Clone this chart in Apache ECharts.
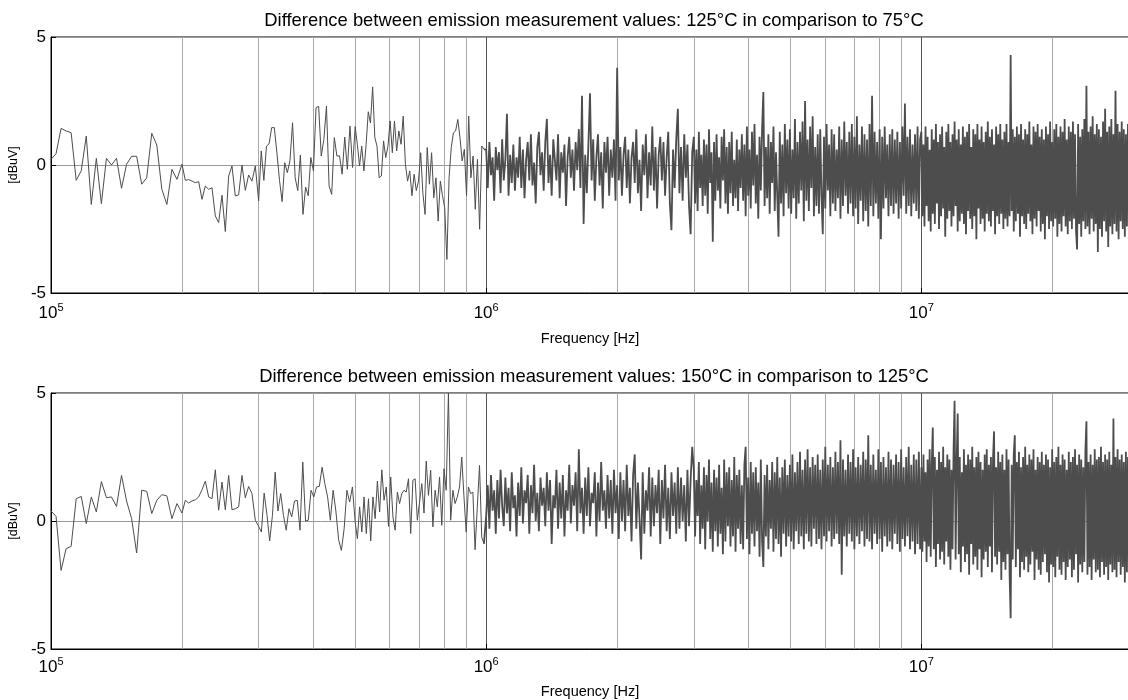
<!DOCTYPE html>
<html>
<head>
<meta charset="utf-8">
<title>Emission difference</title>
<script src="https://cdn.jsdelivr.net/npm/echarts@6/dist/echarts.min.js"></script>
<style>
  html, body { margin: 0; padding: 0; background: #fff; }
  #main { width: 1128px; height: 700px; }
</style>
</head>
<body>
<div id="main"></div>
<script>
var titles = [
    'Difference between emission measurement values: 125\u00b0C in comparison to 75\u00b0C',
    'Difference between emission measurement values: 150\u00b0C in comparison to 125\u00b0C'
];
// stretches of the sweep (Hz); each value array below covers one stretch
var bands = [[1e5, 2e5], [2e5, 3e5], [3e5, 5e5], [5e5, 1e6], [1e6, 3e6], [3e6, 1e7], [1e7, 3e7]];
var minorGrid = [2e5, 3e5, 4e5, 5e5, 6e5, 7e5, 8e5, 9e5, 2e6, 3e6, 4e6, 5e6, 6e6, 7e6, 8e6, 9e6, 2e7];
var yMin = -5, yMax = 5, yStep = 5;

// 125 vs 75 degC  [dBuV]
var top1 = [0.22, 0.44, 1.43, 1.33, 1.26, -0.6, -0.23, 1.13, -1.54, 0.26, -1.51, 0.26, 0, 0.26, -0.91, 0.03, 0.34, 0.34, -0.75, -0.5, 1.24, 0.78, -0.95, -1.54, -0.17, -0.56];
var top2 = [0.03, -0.6, -0.57, -0.63, -0.69, -0.65, -1.34, -0.82, -0.95, -0.89, -1.99, -2.25, -1.18, -2.6, -0.43, -0.04, -1.21, -1.17, 0, -0.99, -0.39, -0.63, -0.04];
var top3 = [-1.4, 0.55, -0.6, 0.74, 0.83, 1.46, 1.46, 0.48, -0.6, -1.43, 0.09, -0.3, 0.16, 1.65, -0.5, -1.0, 0.39, -1.93, -0.86, -1.2, 0.29, -0.23, 2.24, 2.29, 0.35, 1.0, 2.3, -0.82, -1.15, 1.07, 0.35, 0.36, -0.36, 1.09, -0.17, 1.52, -0.1];
var top4 = [1.5, 0.8, -0.04, 0.74, -0.23, 0.8, 2.08, 1.64, 3.05, 1.07, 0.74, -0.5, -0.43, 0.94, 0.29, 0.73, 1.72, 0.48, 1.72, 0.55,
    1.33, 0.81, 1.91, 0.03, -0.63, -0.23, -1.2, -0.36, -1.0, -0.63, 0.48, -1.1, -1.93, 0.68, -0.75, 0.48, -1.28, -0.5, -2.19, -0.63,
    -1.2, -1.67, -3.69, -0.5, 0.68, 1.26, 1.33, 1.78, 1.07, 0.16, 0.61, -1.2, 1.91, -0.5, 0.35, -1.73, 0.22, -2.51, 0.74, 0.61];
var top5 = [0.6, -0.9, 0.9, -0.4, 0.3, -1.4, 0.7, -0.2, 0.5, -1.1, 1.0, -0.6, 0.2, 2.0, -1.2, 0.4, -0.7, 0.8, -1.0, 0.3,
    -0.5, 1.1, -0.9, 0.6, -1.3, 0.2, 0.9, -0.6, 1.2, -0.8, 0.1, -1.5, 0.7, 1.3, -0.4, 0.5, -1.0, 0.9, 1.8, -0.7,
    0.4, -1.2, 1.0, 0.2, -0.6, 1.2, -1.3, 0.5, -0.3, 0.8, -1.6, 0.3, 1.1, -0.5, 0.6, -1.0, 0.9, -0.2, 1.4, -0.9,
    2.7, -2.3, 0.4, -1.1, 0.8, 2.8, -0.6, 1.0, -1.4, 0.3, 1.2, -0.8, 0.5, -1.7, 0.9, -0.3, 1.1, -1.2, 0.6, -0.5,
    1.0, -1.4, 3.8, -0.6, 0.7, -1.2, 0.4, 1.1, -0.9, 0.6, -1.5, 0.3, 0.9, -0.7, 1.4, -1.1, 0.2, -1.8, 0.8, -0.4,
    1.2, -1.3, 0.5, -0.8, 1.5, -1.0, 0.7, -1.7, 0.4, 1.1, -0.6, 0.9, -1.2, 0.3, 1.3, -1.5, -2.55, 0.6, -0.9, 1.0,
    2.2, -1.1, 0.7, -1.4, 1.2, -0.5, 0.8, -1.6, -2.7, 0.5];
var top6 = [1.1, -1.5, 0.6, -1.8, 1.3, -0.9, 0.4, -1.6, 1.0, -1.2, 0.8, -1.9, 1.4, -0.7, 0.5, -3.0, 0.9, -1.4, 1.2, -1.0,
    0.3, -1.7, 1.1, -0.6, 1.4, -1.5, 0.7, -1.9, 0.9, -1.1, 1.3, -1.6, 0.2, -1.3, 1.0, -1.8, 0.6, -0.9, 1.2, -1.4,
    0.8, -2.0, 1.5, -1.2, 0.6, -1.7, 1.3, -0.8, 1.6, -1.5, 0.4, -2.1, 1.1, -1.0, 1.4, 2.85, -1.6, 0.7, -1.3, 1.2,
    -1.9, 0.9, -0.7, 1.5, -1.8, 0.5, -1.2, -2.8, 1.3, -1.5, 0.8, -2.0, 1.6, -1.1, 1.0, -1.7, 1.4, -1.9, 0.6, -1.3,
    1.8, -2.1, 0.9, -1.5, 1.3, -1.0, 1.7, -2.2, 2.5, -1.4, 1.0, -1.8, 1.5, -0.9, 1.9, -2.0, 0.7, -1.6, 1.2, -1.9,
    1.4, -1.2, -2.7, 1.1, -1.7, 1.6, -1.0, 0.8, -2.0, 1.4, -1.5, 1.2, -1.8, 0.6, -1.3, 1.5, -2.1, 1.0, -1.6, 1.7,
    -1.2, 0.9, -1.9, 1.3, -1.5, 1.6, -2.0, 1.1, -1.7, 1.9, -2.3, 0.8, -1.4, 1.5, -2.2, 1.2, -1.8, 1.0, -2.4, 1.6,
    -1.6, 2.7, -2.0, 1.3, -1.5, 0.9, -2.1, 1.4, -2.9, 1.1, -1.7, 1.5, -1.3, 0.8, -2.0, 1.2, -1.6, 1.4, -1.9, 1.0,
    -1.5, 1.3, -2.1, 0.9, -1.7, 1.5, -1.2, 2.4, -1.9, 1.1, -1.6, 1.4, -2.0, 0.8, -1.5, 1.2, -1.8, 1.5, -2.1, 1.0];
var top7 = [1.3, -2.0, 0.8, -2.4, 1.5, -1.6, 1.1, -2.2, 0.6, -2.6, 1.4, -1.9, 1.0, -2.3, 1.6, -1.5, 0.9, -2.5, 1.2, -2.0,
    1.5, -1.7, 0.7, -2.8, 1.3, -2.1, 1.6, -1.8, 0.9, -2.4, 1.2, -2.0, 1.7, -1.6, 1.0, -2.6, 1.4, -2.2, 0.8, -1.9,
    1.5, -2.3, 1.1, -2.7, 1.3, -1.8, 1.6, -2.1, 0.7, -2.5, 1.4, -2.0, 1.2, -2.9, 1.6, -1.7, 1.0, -2.3, 1.5, -2.1,
    0.9, -2.6, 1.3, -1.9, 1.7, -2.2, 1.1, -2.4, 1.4, -1.8, 0.8, -2.7, 1.5, -2.0, 1.2, -2.3, 1.6, -1.9, 1.0, -2.5,
    1.3, -2.1, 1.6, -2.4, 0.9, -2.0, 4.3, -1.8, 1.4, -2.6, 1.1, -2.2, 1.5, -1.9, 1.2, -2.8, 1.6, -2.0, 1.0, -2.3,
    1.4, -2.5, 1.2, -1.9, 1.7, -2.2, 0.8, -2.7, 1.5, -2.1, 1.3, -2.4, 1.6, -1.8, 1.1, -2.6, 1.4, -2.3, 1.0, -2.9,
    1.5, -2.0, 1.2, -2.5, 1.7, -2.2, 0.9, -2.4, 1.4, -2.1, 1.6, -2.8, 1.1, -2.3, 1.5, -2.6, 1.3, -2.0, 1.8, -2.4,
    1.0, -2.7, 1.5, -2.2, 1.3, -2.5, 1.7, -2.1, 1.2, -2.6, -3.3, 1.6, -2.3, 1.1, -2.8, 1.4, -2.2, 1.8, -2.5, 3.1,
    -2.4, 1.3, -2.7, 1.5, -2.1, 1.9, -2.6, 1.2, -2.3, 1.6, -3.4, 1.4, -2.5, 1.1, -2.8, 1.7, -2.2, 2.2, -2.6, 1.3,
    -3.2, 1.5, -2.4, 1.8, -2.7, 1.2, -2.3, 2.9, -2.6, 1.6, -2.9, 1.3, -2.2, 1.7, -2.5, 1.4, -2.8, 1.2, -2.4, 1.6];

// 150 vs 125 degC  [dBuV]
var bot1 = [0.39, 0.18, -1.93, -1.08, -0.99, 0.87, 0.96, -0.1, 0.94, 0.35, 1.54, 0.91, 0.94, 0.57, 1.78, 0.78, 0.09, -1.25, 1.2, 1.16, 0.29, 0.81, 1.03, 0.98, 0.09, 0.68];
var bot2 = [0.31, 0.81, 0.7, 0.78, 0.83, 0.94, 1.22, 1.56, 0.94, 0.87, 2.0, 0.42, 1.52, 0.44, 1.78, 0.44, 0.48, 0.55, 1.78, 0.91, 1.35, 1.07, 0.03];
var bot3 = [-0.21, -0.43, 1.09, 0.26, -0.78, 0.22, 1.91, 0.39, 1.07, 0.22, -0.36, 0.48, 0.16, 0.78, 0.81, -0.36, 2.3, 0.0, 0.03, 1.2,
    0.94, 1.33, 1.35, 2.1, 1.46, 0.94, 0.03, 1.2, 0.39, -0.73, -1.15, -0.3, 1.2, 0.74, 1.33];
var bot4 = [-0.04, -0.69, 0.55, -0.43, 0.94, -0.49, 0.87, -0.78, 0.94, 0.09, 1.56, 0.35, 2.0, 0.81, 1.33, -0.21, 1.72, 0.16, -0.36, 1.13,
    0.68, 1.07, 1.2, 1.13, 1.65, -0.49, 1.59, 1.65, 0.03, 0.74, 1.46, 0.31, 2.34, 1.0, 1.98, -0.23, 1.2, 0.55, 1.72, -0.17,
    2.04, 1.2, 5.0, 0.03, 1.2, 0.68, 0.94, 1.33, 2.5, 0.94, -0.43, 1.33, 1.07, 1.13, -1.12, 0.55, 2.17, -0.63, -0.89];
var bot5 = [0.2, 1.4, -0.3, 1.8, 0.4, 1.2, -0.5, 1.6, 0.1, 2.0, 0.6, -0.2, 1.7, 0.3, 1.3, -0.4, 1.9, 0.5, 1.0, -0.6,
    1.5, 0.2, 2.1, -0.1, 1.2, 0.7, 1.8, -0.5, 1.4, 0.3, 2.2, 0.0, 1.1, -0.4, 1.7, 0.6, 1.3, -0.2, 1.9, 0.4,
    1.6, -0.9, 1.0, 0.5, 2.0, -0.3, 1.5, 0.1, 1.8, -0.6, 1.2, 0.4, 2.2, -0.1, 1.4, 0.6, 1.9, -0.4, 2.8, 0.3,
    1.3, -0.5, 1.7, 0.2, 2.1, -0.2, 1.1, 0.7, 1.9, -0.6, 1.5, 0.0, 2.3, 0.4, 1.2, -0.3, 1.8, 0.1, 1.6, -0.5,
    2.0, 0.3, 1.4, -0.7, 1.9, 0.0, 1.6, -0.4, 2.2, 0.2, 1.3, -0.8, 1.8, 2.6, -0.3, 1.5, 0.1, -1.5, 1.9, -0.5,
    1.2, 0.4, 2.1, -0.6, 1.7, -0.2, 1.4, 0.3, 2.0, -0.9, 1.6, 0.1, 2.2, -0.4, 1.3, -0.7, 1.9, 0.2, 1.5, -0.5,
    2.1, -0.3, 1.7, 0.0, 1.4, -0.8, 2.0, -0.2, 1.6, 2.9];
var bot6 = [2.0, -0.6, 1.6, 0.2, 2.3, -0.9, 1.4, -0.3, 2.1, -1.1, 1.8, 0.0, 2.4, -0.7, 1.5, -1.2, 2.0, -0.4, 1.7, -1.0,
    2.2, -0.5, 1.3, -1.3, 2.4, -0.8, 1.9, -0.2, 2.1, -1.0, 1.6, -0.6, 2.5, -1.2, 1.8, -0.3, 2.0, -0.9, 1.4, -1.1,
    2.2, 2.9, -0.7, 1.7, -1.3, 2.3, -0.5, 1.9, -1.0, 2.1, -0.4, 1.5, -1.4, 2.4, -0.8, -1.8, 1.8, -0.6, 2.2, -1.1,
    1.6, -0.3, 2.3, -1.2, 1.9, -0.7, 2.5, -0.9, 1.7, -1.4, 2.1, -0.5, 2.4, -1.0, 1.8, -0.6, 2.2, -0.8, 2.6, -1.1,
    1.9, -0.4, 2.3, -0.9, 2.7, -0.6, 2.0, -1.1, 2.4, -0.5, 2.8, -0.8, 2.1, -1.0, 2.5, -0.3, 2.2, -0.9, 2.6, -0.7,
    2.0, -1.1, 2.4, -0.6, 2.9, -0.8, 2.2, -0.4, 2.5, -1.0, 2.1, -0.7, 2.7, -0.5, 2.3, -0.9, 3.15, -2.1, 2.4, -0.6,
    2.0, -1.0, 2.6, -0.5, 2.3, -0.8, 2.8, -1.1, 2.1, -0.6, 2.5, -0.9, 2.2, -0.4, 2.7, -1.0, 2.4, -0.7, 3.35, -0.8,
    2.2, -1.1, 2.6, -0.5, 2.0, -0.9, 2.8, -0.7, 2.3, -1.2, 2.5, -0.6, 2.1, -1.0, 2.7, -0.8, 2.4, -1.1, 2.2, -0.5,
    2.6, -0.9, 2.3, -1.2, 2.8, -0.7, 2.1, -1.0, 2.5, -0.6, 2.9, -1.1, 2.2, -0.8, 2.6, -1.3, 2.4, -0.9, 2.7, -1.1];
var bot7 = [2.1, -1.2, 2.6, -0.8, 1.9, -1.6, 2.4, -1.0, 2.8, -1.4, 2.2, 3.65, -1.1, 2.5, -1.8, 2.0, -0.9, 2.7, -1.5, 2.3,
    -1.2, 2.9, -1.7, 2.1, -0.8, 2.6, -1.4, 2.4, -1.9, 2.0, -1.1, 2.7, 4.7, -1.5, 2.3, 4.2, -1.3, 2.5, -2.0, 1.9,
    -1.0, 2.8, -1.6, 2.2, -1.3, 2.6, -2.1, 2.4, -0.9, 2.9, -1.7, 2.1, -1.4, 2.5, -1.9, 2.7, -1.1, 2.3, -2.2, 2.0,
    -1.5, 2.6, -1.2, 2.8, -1.8, 2.2, -1.0, 2.5, -2.0, 2.4, 3.5, -1.4, 2.1, -1.7, 2.7, -1.2, 2.3, -2.3, 2.6, -1.6,
    2.0, -1.9, 2.8, -1.3, 2.4, -2.1, -3.8, 2.2, -1.5, 2.6, 3.35, -1.8, 2.3, -1.1, 2.7, -2.2, 2.1, -1.6, 2.5, -1.9,
    2.9, -1.4, 2.2, -2.0, 2.6, -1.7, 2.4, -1.2, 2.8, -2.3, 2.0, -1.5, 2.5, -1.9, 2.3, -2.1, 2.7, -1.6, 2.2, -1.3,
    2.6, -2.0, 2.4, -2.4, 2.1, -1.7, 2.8, -1.8, 2.3, -2.2, 2.5, -1.4, 2.9, -1.9, 2.2, -2.1, 2.6, -1.6, 2.4, -2.3,
    2.0, -1.8, 2.7, -1.5, 2.3, -2.2, 2.5, -1.9, 2.8, -1.3, 2.2, -2.4, 2.6, -1.7, 2.4, -2.0, 2.1, -1.6, 2.7, 3.9,
    -2.1, 2.3, -1.8, 2.6, -2.3, 2.2, -1.5, 2.8, -2.0, 2.4, -1.9, 2.5, -2.2, 2.9, -1.6, 2.3, -2.1, 2.6, -1.8, 2.4,
    -2.3, 2.7, -1.7, 2.2, -2.0, 4.0, -1.9, 2.5, -2.2, 2.8, -1.6, 2.4, -2.1, 2.6, -1.8, 2.3, -2.4, 2.7, -2.0, 2.5];

var fontFam = '"Liberation Sans", Arial, Helvetica, sans-serif';

// spread each stretch's readings evenly (log) across its frequency band
function sweep(parts, firstBand) {
    var out = [];
    parts.forEach(function (vals, k) {
        var b = bands[firstBand + k], f0 = b[0], f1 = b[1], n = vals.length;
        vals.forEach(function (v, i) {
            out.push([f0 * Math.pow(f1 / f0, i / n), v]);
        });
    });
    return out;
}

// below 1 MHz the trace is sparse, above it the sweep gets very dense
var topLow = sweep([top1, top2, top3, top4], 0);
var topHigh = sweep([top5, top6, top7], 4);
var botLow = sweep([bot1, bot2, bot3, bot4], 0);
var botHigh = sweep([bot5, bot6, bot7], 4);
// join the two pieces
topHigh.unshift(topLow[topLow.length - 1]);
botHigh.unshift(botLow[botLow.length - 1]);

function xAxisFor(idx) {
    return {
        type: 'log', logBase: 10, gridIndex: idx,
        min: 1e5, max: 3e7, interval: 1,
        name: 'Frequency [Hz]', nameLocation: 'middle', nameGap: idx === 0 ? 38 : 35,
        nameTextStyle: { fontFamily: fontFam, fontSize: 14.5, color: '#000' },
        axisLine: { show: true, onZero: false, lineStyle: { color: '#000', width: 1 } },
        axisTick: { show: true, inside: true, length: 5, lineStyle: { color: '#000' } },
        splitLine: { show: true, lineStyle: { color: '#555', width: 1 } },
        axisLabel: {
            showMaxLabel: false, margin: idx === 0 ? 9 : 7, color: '#000', fontFamily: fontFam,
            formatter: function (v) {
                return '{b|10}{s|' + Math.round(Math.log10(v)) + '}';
            },
            rich: {
                b: { fontSize: 17, fontFamily: fontFam, color: '#000', lineHeight: 20, verticalAlign: 'bottom' },
                s: { fontSize: 11, fontFamily: fontFam, color: '#000', lineHeight: 20, verticalAlign: 'top' }
            }
        }
    };
}

function yAxisFor(idx) {
    return {
        type: 'value', gridIndex: idx,
        min: yMin, max: yMax, interval: yStep,
        name: '[dBuV]', nameLocation: 'middle', nameGap: 29, nameRotate: 90,
        nameTextStyle: { fontFamily: fontFam, fontSize: 12.5, color: '#000' },
        axisLine: { show: true, onZero: false, lineStyle: { color: '#000', width: 1 } },
        axisTick: { show: true, inside: true, length: 5, lineStyle: { color: '#000' } },
        splitLine: { show: true, lineStyle: { color: '#999', width: 1 } },
        axisLabel: { fontSize: 17, fontFamily: fontFam, color: '#000', margin: 5 }
    };
}

function traceFor(idx, data, width, withGrid) {
    var s = {
        type: 'line', xAxisIndex: idx, yAxisIndex: idx,
        data: data, showSymbol: false, symbol: 'none', z: 3,
        lineStyle: { color: '#4d4d4d', width: width }
    };
    if (withGrid) {
        s.markLine = {
            silent: true, symbol: ['none', 'none'], z: 1, animation: false,
            label: { show: false },
            lineStyle: { color: '#a8a8a8', width: 1, type: 'solid' },
            data: minorGrid.map(function (f) { return { xAxis: f }; })
        };
    }
    return s;
}

var chart = echarts.init(document.getElementById('main'), null, { renderer: 'canvas' });

chart.setOption({
    backgroundColor: '#fff',
    animation: false,
    title: titles.map(function (t, i) {
        return {
            text: t, left: 589, top: i === 0 ? 7 : 363, textAlign: 'center',
            textStyle: { fontFamily: fontFam, fontSize: 18.4, fontWeight: 'normal', color: '#000' }
        };
    }),
    grid: [
        { left: 51, right: -1, top: 37, height: 256, show: true, borderColor: '#000', borderWidth: 1, outerBoundsMode: 'none' },
        { left: 51, right: -1, top: 393, height: 256, show: true, borderColor: '#000', borderWidth: 1, outerBoundsMode: 'none' }
    ],
    xAxis: [xAxisFor(0), xAxisFor(1)],
    yAxis: [yAxisFor(0), yAxisFor(1)],
    series: [
        traceFor(0, topLow, 1, true), traceFor(0, topHigh, 1.8, false),
        traceFor(1, botLow, 1, true), traceFor(1, botHigh, 1.8, false)
    ]
});
</script>
</body>
</html>
